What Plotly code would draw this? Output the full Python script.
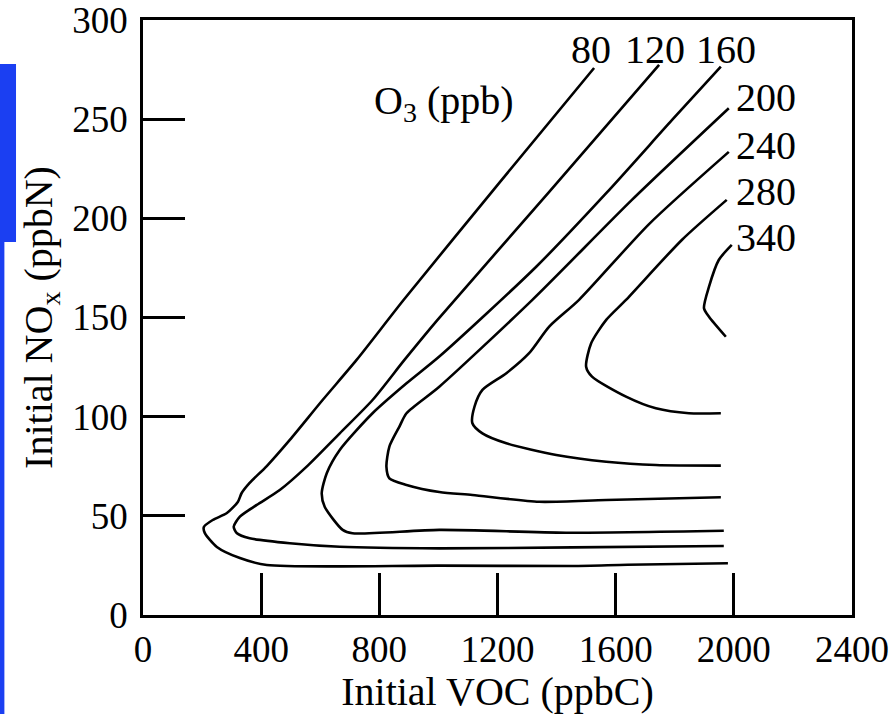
import plotly.graph_objects as go

# ---- axis ticks ----
x_ticks = [0, 400, 800, 1200, 1600, 2000, 2400]
y_ticks = [0, 50, 100, 150, 200, 250, 300]

# ---- isopleth labels (O3 ppb) ----
o3_labels = ["80", "120", "160", "200", "240", "280", "340"]
label_voc = [1517, 1733, 1973, 2108, 2108, 2108, 2108]
label_nox = [285.0, 285.0, 285.0, 260.7, 236.5, 213.3, 190.1]

# ---- isopleth traces: initial VOC (ppbC) vs initial NOx (ppbN) ----
voc_80 = [1980, 1640, 1453, 1003, 419, 328, 250, 209, 206, 236, 284, 321, 334, 361,
          419, 497, 608, 723, 882, 1206, 1527]
nox_80 = [26.1, 25.3, 24.7, 24.9, 25.2, 28.7, 34.3, 41.4, 44.4, 47.9, 51.4, 57.0, 61.5, 66.6,
          75.1, 88.3, 108.4, 128.6, 158.8, 217.9, 275.8]

voc_120 = [1966, 1453, 1003, 666, 497, 361, 318, 307, 328, 385, 463, 554, 666, 777,
           885, 997, 1375, 1747]
nox_120 = [34.8, 34.1, 33.6, 34.4, 36.2, 38.7, 41.2, 44.5, 49.6, 55.5, 63.0, 74.8, 91.6, 108.4,
           128.6, 148.8, 213.3, 277.4]

voc_160 = [1966, 1432, 1003, 709, 676, 615, 605, 622, 666, 777, 892, 1003, 1331,
           1568, 1791, 1956]
nox_160 = [42.5, 41.5, 42.9, 41.2, 42.9, 54.6, 61.4, 71.5, 83.2, 101.7, 116.8, 130.3, 175.6,
           212.7, 249.6, 276.5]

voc_200 = [1956, 1568, 1341, 1115, 1003, 892, 834, 824, 834, 868, 892, 1003, 1318, 1655,
           1983]
nox_200 = [59.4, 58.0, 57.1, 60.5, 62.0, 65.6, 68.9, 74.8, 84.9, 95.0, 101.7, 115.1, 158.9, 209.3,
           255.5]

voc_240 = [1956, 1736, 1568, 1399, 1230, 1149, 1115, 1122, 1149, 1230, 1307, 1375, 1476,
           1713, 1983]
nox_240 = [75.3, 75.6, 77.3, 80.7, 86.6, 91.6, 96.7, 105.0, 113.5, 121.9, 132.0, 145.4, 158.9,
           197.1, 233.5]

voc_280 = [1956, 1848, 1736, 1635, 1520, 1500, 1517, 1568, 1635, 1824, 1976]
nox_280 = [101.7, 101.7, 104.2, 110.1, 120.2, 125.2, 137.0, 148.8, 158.9, 189.1, 209.3]

voc_340 = [1973, 1916, 1899, 1916, 1949, 1993]
nox_340 = [140.3, 150.4, 154.7, 165.6, 179.0, 186.6]

series = [
    ("80", voc_80, nox_80),
    ("120", voc_120, nox_120),
    ("160", voc_160, nox_160),
    ("200", voc_200, nox_200),
    ("240", voc_240, nox_240),
    ("280", voc_280, nox_280),
    ("340", voc_340, nox_340),
]

FONT = "Liberation Serif"

fig = go.Figure()
for name, xs, ys in series:
    fig.add_trace(go.Scatter(
        x=xs, y=ys, mode="lines", name=name + " ppb",
        line=dict(color="black", width=2.6, shape="spline", smoothing=0.7),
        showlegend=False, hoverinfo="skip",
    ))

annotations = []
for t, xv, yv in zip(o3_labels, label_voc, label_nox):
    annotations.append(dict(x=xv, y=yv, xref="x", yref="y", text=t, showarrow=False,
                            font=dict(family=FONT, size=40, color="black"),
                            xanchor="center", yanchor="middle"))
annotations.append(dict(x=1020, y=258, xref="x", yref="y", text="O<sub>3</sub> (ppb)",
                        showarrow=False, font=dict(family=FONT, size=40, color="black"),
                        xanchor="center", yanchor="middle"))

# blue strip at left edge of the slide
shapes = [
    dict(type="rect", xref="paper", yref="paper", x0=-0.2017, x1=-0.1791, y0=0.627, y1=0.926,
         fillcolor="#1b3ff2", line=dict(width=0), layer="below"),
    dict(type="rect", xref="paper", yref="paper", x0=-0.2017, x1=-0.1955, y0=-0.17, y1=0.627,
         fillcolor="#1b3ff2", line=dict(width=0), layer="below"),
]

fig.update_layout(
    width=896, height=714,
    margin=dict(l=143, r=44, t=20, b=99, autoexpand=False),
    paper_bgcolor="white", plot_bgcolor="white",
    font=dict(family=FONT, color="black"),
    annotations=annotations, shapes=shapes,
    xaxis=dict(
        range=[0, 2400], tickvals=x_ticks, ticktext=[str(v) for v in x_ticks],
        ticks="inside", ticklen=42, tickwidth=2.5, tickcolor="black",
        showline=True, linecolor="black", linewidth=2.5, mirror=True,
        showgrid=False, zeroline=False,
        tickfont=dict(family=FONT, size=37, color="black"),
        ticklabelstandoff=0, ticklabeloverflow="allow",
        title=dict(text="Initial VOC (ppbC)", font=dict(family=FONT, size=40, color="black"),
                   standoff=6),
        fixedrange=True, automargin=False,
    ),
    yaxis=dict(
        range=[0, 300], tickvals=y_ticks, ticktext=[str(v) for v in y_ticks],
        ticks="inside", ticklen=42, tickwidth=2.5, tickcolor="black",
        showline=True, linecolor="black", linewidth=2.5, mirror=True,
        showgrid=False, zeroline=False,
        tickfont=dict(family=FONT, size=37, color="black"),
        ticklabelstandoff=5, ticklabeloverflow="allow",
        title=dict(text="Initial NO<sub>x</sub> (ppbN)", font=dict(family=FONT, size=40, color="black"),
                   standoff=8),
        fixedrange=True, automargin=False,
    ),
)

fig.write_html("out.html", config={"displayModeBar": False},
               post_script="document.body.style.margin='0';")
